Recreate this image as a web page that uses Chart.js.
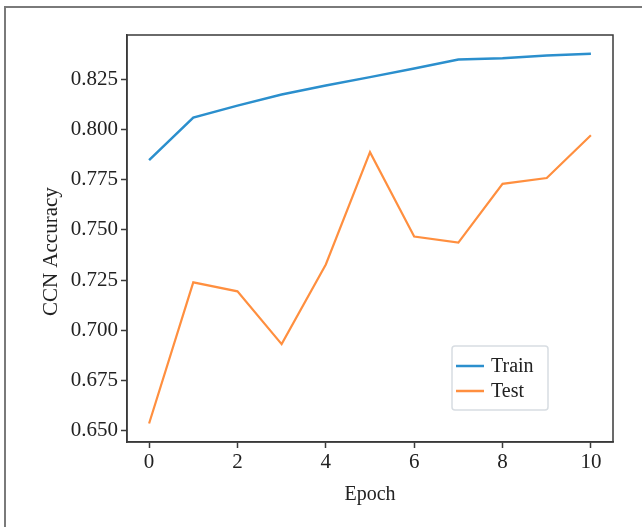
<!DOCTYPE html>
<html>
<head>
<meta charset="utf-8">
<script src="https://cdn.jsdelivr.net/npm/chart.js@4/dist/chart.umd.min.js"></script>
<style>
  html, body { margin: 0; padding: 0; background: #fff; }
</style>
</head>
<body>
<canvas id="chart" width="642" height="527"></canvas>
<script>
const epochs = [0, 1, 2, 3, 4, 5, 6, 7, 8, 9, 10];
const trainAcc = [0.7848, 0.806, 0.812, 0.8175, 0.822, 0.8262, 0.8305, 0.835, 0.8356, 0.837, 0.8378];
const testAcc = [0.6535, 0.7239, 0.7194, 0.6931, 0.7328, 0.7888, 0.7467, 0.7437, 0.773, 0.7759, 0.7972];
const xTicks = [0, 2, 4, 6, 8, 10];
const yTicks = [0.65, 0.675, 0.7, 0.725, 0.75, 0.775, 0.8, 0.825];

const serif = "'Liberation Serif', 'DejaVu Serif', serif";
const blue = "#2b8fcd";
const orange = "#ff8f3f";
const frameColor = "#3a3a3a";

const pts = vals => vals.map((v, i) => ({ x: epochs[i], y: v }));

// box round the plot and the page border
const framePlugin = {
  id: "frame",
  beforeDraw(chart) {
    const ctx = chart.ctx;
    ctx.save();
    ctx.strokeStyle = "#7a7a7a";
    ctx.lineWidth = 2;
    ctx.beginPath();
    ctx.moveTo(5, 527);
    ctx.lineTo(5, 7);
    ctx.lineTo(642, 7);
    ctx.stroke();
    ctx.restore();
  },
  afterDraw(chart) {
    const { ctx, chartArea: a } = chart;
    ctx.save();
    ctx.strokeStyle = frameColor;
    ctx.lineWidth = 1.5;
    ctx.strokeRect(a.left, a.top, a.right - a.left, a.bottom - a.top);
    ctx.restore();
  }
};

// matplotlib style legend, lower right inside the axes
const legendPlugin = {
  id: "innerLegend",
  afterDraw(chart) {
    const { ctx, chartArea: a } = chart;
    const x = a.right - 161, y = a.bottom - 96, w = 96, h = 64;
    ctx.save();
    ctx.fillStyle = "rgba(255,255,255,0.8)";
    ctx.strokeStyle = "#d8dde2";
    ctx.lineWidth = 1.5;
    ctx.beginPath();
    ctx.roundRect(x, y, w, h, 3);
    ctx.fill();
    ctx.stroke();
    ctx.font = "20px " + serif;
    ctx.textBaseline = "middle";
    chart.data.datasets.forEach((ds, i) => {
      const ly = y + 20 + i * 25;
      ctx.strokeStyle = ds.borderColor;
      ctx.lineWidth = 2.5;
      ctx.beginPath();
      ctx.moveTo(x + 4, ly);
      ctx.lineTo(x + 32, ly);
      ctx.stroke();
      ctx.fillStyle = "#222";
      ctx.fillText(ds.label, x + 39, ly + 1);
    });
    ctx.restore();
  }
};

new Chart(document.getElementById("chart"), {
  type: "line",
  data: {
    datasets: [
      { label: "Train", data: pts(trainAcc), borderColor: blue, borderWidth: 2.5, pointRadius: 0, tension: 0 },
      { label: "Test", data: pts(testAcc), borderColor: orange, borderWidth: 2.2, pointRadius: 0, tension: 0 }
    ]
  },
  options: {
    responsive: false,
    animation: false,
    layout: { padding: { left: 0, top: 35, right: 29, bottom: 0 } },
    plugins: { legend: { display: false }, tooltip: { enabled: false } },
    scales: {
      x: {
        type: "linear",
        min: -0.5,
        max: 10.5,
        afterBuildTicks: axis => { axis.ticks = xTicks.map(v => ({ value: v })); },
        afterFit: scale => { scale.height = 85; },
        grid: { drawOnChartArea: false, tickLength: 6, tickColor: frameColor, tickWidth: 1.5 },
        border: { color: frameColor, width: 1.5 },
        ticks: { color: "#222", font: { family: serif, size: 21 }, padding: 2, maxRotation: 0 },
        title: { display: true, text: "Epoch", color: "#222", font: { family: serif, size: 20 }, padding: { top: 0, bottom: 20 } }
      },
      y: {
        min: 0.6443,
        max: 0.8472,
        afterBuildTicks: axis => { axis.ticks = yTicks.map(v => ({ value: v })); },
        afterFit: scale => { scale.width = 127; },
        grid: { drawOnChartArea: false, tickLength: 6, tickColor: frameColor, tickWidth: 1.5 },
        border: { color: frameColor, width: 1.5 },
        ticks: { color: "#222", font: { family: serif, size: 21 }, padding: 3, callback: v => v.toFixed(3) },
        // trailing spaces nudge the label down a little, as in the original
        title: { display: true, text: "CCN Accuracy     ", color: "#222", font: { family: serif, size: 21 }, padding: { top: 39, bottom: 0 } }
      }
    }
  },
  plugins: [framePlugin, legendPlugin]
});
</script>
</body>
</html>
